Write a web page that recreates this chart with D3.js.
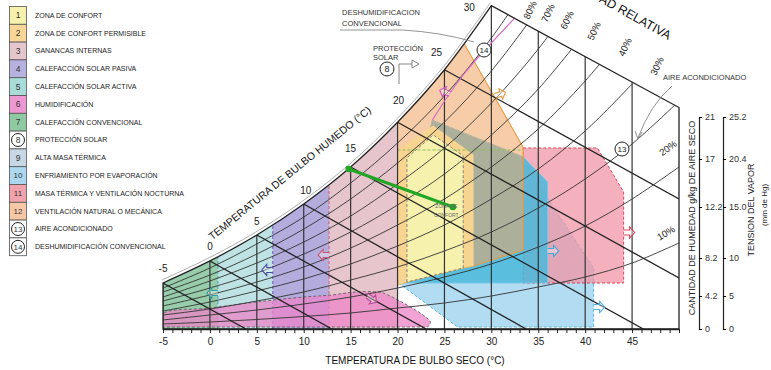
<!DOCTYPE html>
<html><head><meta charset="utf-8">
<script src="https://cdn.jsdelivr.net/npm/d3@7"></script>
<style>
body{margin:0;background:#fff}
svg{display:block;font-family:"Liberation Sans",Arial,sans-serif}
</style>
</head><body>
<svg id="c" width="771" height="370"></svg>
<script>
// ---------------- DATA ----------------
const dryBulbLabels = [-5,0,5,10,15,20,25,30,35,40,45];
const humTicks = [0,4.2,8.2,12.2,17,21];
const humTickLabels = ["0","4.2","8.2","12.2","17","21"];
const vapTicks = [0,5,10,15,20.4,25.2];
const vapTickLabels = ["0","5","10","15.0","20.4","25.2"];

// saturation curve (dry bulb °C, g/kg)
const satT = [-5,0,5,10,15,20,25,30];
const satW = [5.57,7.89,10.0,12.5,16.2,20.5,25.5,31.6];
// upper boundary (wet bulb 30) end point
const topEndT = 50, topEndW = 21.9;

// wet bulb lines: start on saturation, end on the frame
const wbT    = [-5,0,5,10,15,20,25];
const wbEndT = [3.84,13.0,23.05,33.7,46.2,50,50];
const wbEndW = [0,0,0,0,0,6.1,13.0];

// relative humidity curves, sampled at rhT
const rhT = [-5,0,5,10,15,20,25,30,35,40,45,50];
const rh10 = [0.64,0.89,1.21,1.59,2.04,2.67,3.31,4.2,5.15,6.2,7.67,9.38];
const rh20 = [1.15,1.78,2.42,3.18,4.07,5.04,6.2,7.57,9.06,10.71,13.0,16.2];
const rh30 = [1.78,2.55,3.56,4.62,5.88,7.25,8.75,10.24,12.12,15.0,18.43,22.52];
const rh40 = [2.29,3.44,4.73,5.99,7.57,9.14,10.79,13.0,16.0,19.67,24.14];
const rh50 = [2.93,4.31,5.67,7.25,8.98,10.79,13.0,16.2,19.86,24.43,29.85];
const rh60 = [3.56,5.04,6.62,8.51,10.24,12.4,15.5,19.28,23.66,29.09];
const rh70 = [4.07,5.78,7.67,9.45,11.49,14.5,18.05,22.33,27.47,33.66];
const rh80 = [4.62,6.41,8.51,10.47,13.0,16.6,20.52,25.38,31.28];
const rh90 = [5.04,7.15,9.30,11.41,14.6,18.52,23.0,28.52,35.09];
const rhCurves = [rh10,rh20,rh30,rh40,rh50,rh60,rh70,rh80,rh90];

// heating bands (dry bulb limits): 7, 5, 4, 3
const bandEdges = [-5,0.85,6.7,12.7,20];

// zones as [dry bulb, g/kg]
const zoneHumid   = [[-5,0.25],[-5,1.91],[0,2.67],[5,3.44],[10,4.07],[13,4.31],[15.5,4.62],[18,4.62],[18.5,4.52],[23.5,0.89],[23.2,0.25]];
const zoneEvap    = [[20.1,5.57],[26.4,0.25],[40.9,0.25],[40.9,7.15],[35.2,14.2],[33.4,17.2],[23.7,20.7]];
const zoneNight   = [[33.4,18.05],[41.3,18.05],[44.1,13.7],[44.1,5.57],[33.4,5.57]];
const zoneMass    = [[20.1,5.57],[36.0,5.57],[36.0,14.7],[33.4,17.2],[23.7,20.7]];
const zoneVent    = [[20,5.36],[20,40],[27.4,27.5],[33.4,18.1],[33.4,8.83],[28.1,7.36],[27,7.15],[21,5.67]];
const zonePermis  = [[20.1,5.36],[20.1,17.9],[23.8,20.2],[28.1,17.4],[28.1,7.36],[27,7.15],[21,5.67]];
const zoneComfort = [[21,5.67],[21,17.1],[23.8,19.3],[27,17.3],[27,7.15]];
const dehumLine   = [[23.7,20.7],[27.0,25.0],[32.8,30.7]];
const massTopLine = [[20,17.86],[33.4,17.86]];
// observed climate line
const climate = [[14.8,16.0],[25.9,12.2]];

// legend
const legendNums = ["1","2","3","4","5","6","7","8","9","10","11","12","13","14"];
const legendLabels = ["ZONA DE CONFORT","ZONA DE CONFORT PERMISIBLE","GANANCAS INTERNAS","CALEFACCIÓN SOLAR PASIVA","CALEFACCIÓN SOLAR ACTIVA","HUMIDIFICACIÓN","CALEFACCIÓN CONVENCIONAL","PROTECCIÓN SOLAR","ALTA MASA TÉRMICA","ENFRIAMIENTO POR EVAPORACIÓN","MASA TÉRMICA Y VENTILACIÓN NOCTURNA","VENTILACIÓN NATURAL O MECÁNICA","AIRE ACONDICIONADO","DESHUMIDIFICACIÓN CONVENCIONAL"];
const legendCircled = [false,false,false,false,false,false,false,true,false,false,false,false,true,true];
const rhLabels = ["10%","20%","30%","40%","50%","60%","70%","80%"];

// ---------------- STYLE ----------------
const legendColors = ["#f6f2ae","#f8d697","#e6c6cd","#b6b1df","#a9dbd8","#ee98d2","#8fc9a2","#fff","#c7d7e6","#abd8ef","#f0a2ad","#f6c7a6","#fff","#fff"];
const bandColors = ["#97cdaa","#bfe3e4","#b3acdd","#e6c5cc"];
const bandStroke = ["#2fa080","#3aa7b5","#5a4fb5","#c45a70"];

const svg = d3.select("#c");
const x = d3.scaleLinear().domain([-5,50]).range([163,679]);
const y = d3.scaleLinear().domain(humTicks).range([329,296,258,207,159,117]);
const yV = d3.scaleLinear().domain(vapTicks).range([329,296,258,207,159,117]);

const line = d3.line().x(d=>x(d[0])).y(d=>y(d[1]));
const smooth = d3.line().x(d=>x(d[0])).y(d=>y(d[1])).curve(d3.curveCatmullRom);
const satPts = satT.map((t,i)=>[t,satW[i]]);
const satD = smooth(satPts);
const outlineD = `M${x(-5)},${y(0)}L${satD.slice(1)}L${x(topEndT)},${y(topEndW)}L${x(50)},${y(0)}Z`;

svg.append("defs").append("clipPath").attr("id","clip").append("path").attr("d",outlineD);
const g = svg.append("g").attr("clip-path","url(#clip)");

// heating bands
bandColors.forEach((c,i)=>{
  const a = bandEdges[i], b = bandEdges[i+1];
  g.append("path").attr("d", line([[a,0],[a,40],[b,40],[b,0]]) + "Z").attr("fill",c);
  if(i>0) g.append("path").attr("d", line([[a,0],[a,40]])).attr("stroke",bandStroke[i]).attr("stroke-width",0.9).attr("stroke-dasharray","3,2").attr("fill","none");
});
// humidification
g.append("path").attr("d", smooth(zoneHumid)+"Z").attr("fill","#ec84c8").attr("fill-opacity",0.75)
  .attr("stroke","#555").attr("stroke-width",0.8).attr("stroke-dasharray","3,2");
// evaporative cooling
g.append("path").attr("d", line(zoneEvap)+"Z").attr("fill","#b2dcf1")
  .attr("stroke","#5ab8e0").attr("stroke-width",1).attr("stroke-dasharray","3,2");
// night ventilation
g.append("path").attr("d", line(zoneNight)+"Z").attr("fill","#f095a5").attr("fill-opacity",0.75)
  .attr("stroke","#e0405a").attr("stroke-width",1).attr("stroke-dasharray","3,2");
// high thermal mass
g.append("path").attr("d", line(zoneMass)+"Z").attr("fill","#4ab9da").attr("fill-opacity",0.85)
  .attr("stroke","#7cc8e6").attr("stroke-width",1);
// natural ventilation
g.append("path").attr("d", line(zoneVent)+"Z").attr("fill","#f0a462").attr("fill-opacity",0.55)
  .attr("stroke","#ec9a3c").attr("stroke-width",1.1);
// permissible comfort
g.append("path").attr("d", line(zonePermis)+"Z").attr("fill","#f8d491");
// comfort
g.append("path").attr("d", line(zoneComfort)+"Z").attr("fill","#f6f2ae")
  .attr("stroke","#777").attr("stroke-width",0.9).attr("stroke-dasharray","3,2");
g.append("path").attr("d", line(massTopLine)).attr("stroke","#8bbf5a").attr("stroke-width",1).attr("stroke-dasharray","3,2").attr("fill","none");

// RH curves
rhCurves.forEach(arr=>{
  g.append("path").attr("d", smooth(arr.map((w,i)=>[rhT[i],w]))).attr("fill","none").attr("stroke","#333").attr("stroke-width",0.9);
});
// vertical dry bulb lines
dryBulbLabels.forEach(t=>{
  g.append("path").attr("d", line([[t,0],[t,45]])).attr("stroke","#333").attr("stroke-width",1.2);
});
// wet bulb lines
wbT.forEach((t,i)=>{
  g.append("path").attr("d", line([[t,satW[i]],[wbEndT[i],wbEndW[i]]])).attr("stroke","#222").attr("stroke-width",1.3);
});
// dehumidification boundary
g.append("path").attr("d", smooth(dehumLine)).attr("stroke","#d569c9").attr("stroke-width",1.2).attr("fill","none");

// outline
svg.append("path").attr("d", satD).attr("transform","translate(-1,-3)").attr("fill","none").attr("stroke","#999").attr("stroke-width",0.8);
svg.append("path").attr("d", outlineD).attr("fill","none").attr("stroke","#222").attr("stroke-width",1.3);

// arrows
function arrow(t,w,ang,col){
  svg.append("path").attr("d","M0,-2.5L6,-2.5L6,-5.5L11,0L6,5.5L6,2.5L0,2.5")
    .attr("transform",`translate(${x(t)},${y(w)}) rotate(${ang})`)
    .attr("fill","#fff").attr("fill-opacity",0.35).attr("stroke",col).attr("stroke-width",1.1);
}
arrow(44.1,10.2,0,"#e0405a");
arrow(40.9,2.8,0,"#4fb3df");
arrow(36.0,8.75,0,"#3fa9d6");
arrow(12.7,8.44,180,"#c85a72");
arrow(6.7,6.94,180,"#4a4aa8");
arrow(0.85,4.52,180,"#2fa0a8");
arrow(16.8,4.2,35,"#b44a90");
arrow(25.6,23.2,200,"#d050c0");
arrow(30.4,23.0,-20,"#ec9a3c");

// climate line
svg.append("path").attr("d", line(climate)).attr("stroke","#22a626").attr("stroke-width",3).attr("fill","none");
climate.forEach(d=>svg.append("circle").attr("cx",x(d[0])).attr("cy",y(d[1])).attr("r",3.3).attr("fill","#22a626"));
svg.append("text").attr("x",x(25.2)).attr("y",y(12.1)).attr("text-anchor","middle").attr("font-size",5).attr("fill","#666").text("ZONA DE");
svg.append("text").attr("x",x(25.2)).attr("y",y(11.4)).attr("text-anchor","middle").attr("font-size",5).attr("fill","#666").text("CONFORT");

// bottom axis
const ax = svg.append("g").attr("transform",`translate(0,${y(0)})`)
  .call(d3.axisBottom(x).tickValues(d3.range(-5,51,1)).tickSize(4).tickSizeOuter(0)
  .tickFormat(d=> (d%5===0 && d<=45) ? String(d) : ""));
ax.select(".domain").attr("stroke","#222").attr("stroke-width",1.4);
ax.selectAll(".tick line").attr("stroke","#222");
ax.selectAll("text").attr("font-size",10).attr("fill","#222").attr("font-family","Liberation Sans, Arial, sans-serif").attr("dy","0.9em");
svg.append("text").attr("x",415).attr("y",364).attr("text-anchor","middle").attr("font-size",10).attr("fill","#111").text("TEMPERATURA DE BULBO SECO (°C)");

// right axes
const ah = svg.append("g").attr("transform","translate(699,0)")
  .call(d3.axisRight(y).tickValues(humTicks).tickSize(3).tickSizeOuter(3).tickFormat((d,i)=>humTickLabels[i]));
const av = svg.append("g").attr("transform","translate(723,0)")
  .call(d3.axisRight(yV).tickValues(vapTicks).tickSize(3).tickSizeOuter(3).tickFormat((d,i)=>vapTickLabels[i]));
[ah,av].forEach(a=>{
  a.select(".domain").attr("stroke","#222").attr("stroke-width",1.2);
  a.selectAll("text").attr("font-size",9).attr("fill","#333").attr("font-family","Liberation Sans, Arial, sans-serif");
});
svg.append("text").attr("transform","translate(695,218) rotate(-90)").attr("text-anchor","middle").attr("font-size",9).attr("fill","#222").text("CANTIDAD DE HUMEDAD g/kg DE AIRE SECO");
svg.append("text").attr("transform","translate(754,210) rotate(-90)").attr("text-anchor","middle").attr("font-size",9).attr("fill","#222").text("TENSION DEL VAPOR");
svg.append("text").attr("transform","translate(767,205) rotate(-90)").attr("text-anchor","middle").attr("font-size",8).attr("fill","#222").text("(mm de Hg)");

// wet bulb labels on the saturation curve
const wbLabelOff = [[0,-11],[0,-11],[0,-10],[2,-10],[0,-15],[1,-18],[-8,-14],[-22,5]];
satT.forEach((t,i)=>{
  svg.append("text").attr("x",x(t)+wbLabelOff[i][0]).attr("y",y(satW[i])+wbLabelOff[i][1]).attr("text-anchor","middle").attr("font-size",10).attr("fill","#222").text(String(t));
});
svg.append("text").attr("transform","translate(292,176) rotate(-39)").attr("text-anchor","middle").attr("font-size",10.5).attr("fill","#111").text("TEMPERATURA DE BULBO HUMEDO (°C)");

// RH labels
const rhTopPos = [[530,10],[548,13],[567,20],[594,31],[625,47],[657,66]];
["80%","70%","60%","50%","40%","30%"].forEach((s,i)=>{
  svg.append("text").attr("transform",`translate(${rhTopPos[i][0]},${rhTopPos[i][1]}) rotate(-65)`).attr("text-anchor","middle").attr("dy","0.35em").attr("font-size",9.5).attr("fill","#222").text(s);
});
svg.append("text").attr("transform","translate(668,148) rotate(-35)").attr("text-anchor","middle").attr("dy","0.35em").attr("font-size",9.5).attr("fill","#222").text(rhLabels[1]);
svg.append("text").attr("transform","translate(666,233) rotate(-30)").attr("text-anchor","middle").attr("dy","0.35em").attr("font-size",9.5).attr("fill","#222").text(rhLabels[0]);
svg.append("text").attr("transform","translate(668,40) rotate(29)").attr("text-anchor","end").attr("font-size",12.5).attr("fill","#111").text("HUMEDAD RELATIVA");

// annotations
function circ(cx,cy,s){
  svg.append("circle").attr("cx",cx).attr("cy",cy).attr("r",7).attr("fill","#fff").attr("stroke","#222").attr("stroke-width",1);
  svg.append("text").attr("x",cx).attr("y",cy).attr("dy","0.35em").attr("text-anchor","middle").attr("font-size",s.length>1?8:9).attr("fill","#222").text(s);
}
svg.append("text").attr("x",342).attr("y",15).attr("font-size",7.5).attr("fill","#333").text("DESHUMIDIFICACION");
svg.append("text").attr("x",342).attr("y",26).attr("font-size",7.5).attr("fill","#333").text("CONVENCIONAL");
svg.append("path").attr("d","M340,30L402,30Q440,32 474,42").attr("fill","none").attr("stroke","#888").attr("stroke-width",0.9);
circ(484,50,"14");
svg.append("text").attr("x",373).attr("y",51).attr("font-size",7.5).attr("fill","#333").text("PROTECCIÓN");
svg.append("text").attr("x",373).attr("y",60).attr("font-size",7.5).attr("fill","#333").text("SOLAR");
circ(387,69,"8");
svg.append("path").attr("d","M399,84L399,64L412,64").attr("fill","none").attr("stroke","#777").attr("stroke-width",0.9);
svg.append("path").attr("d","M412,60L419,64L412,68Z").attr("fill","#fff").attr("stroke","#777").attr("stroke-width",0.9);
svg.append("text").attr("x",663).attr("y",80).attr("font-size",7.5).attr("fill","#333").text("AIRE ACONDICIONADO");
svg.append("path").attr("d","M672,86Q650,105 638,138").attr("fill","none").attr("stroke","#888").attr("stroke-width",0.9);
svg.append("path").attr("d","M635,131L638,139L642,132").attr("fill","none").attr("stroke","#888").attr("stroke-width",0.9);
circ(622,149,"13");

// legend
const step = 17.8, top0 = 6.5;
legendNums.forEach((n,i)=>{
  const yt = top0 + i*step;
  svg.append("rect").attr("x",9.5).attr("y",yt).attr("width",17).attr("height",step)
    .attr("fill",legendColors[i]).attr("stroke","#555").attr("stroke-width",0.8);
  if(legendCircled[i]) svg.append("circle").attr("cx",18).attr("cy",yt+step/2).attr("r",6.5).attr("fill","#fff").attr("stroke","#222").attr("stroke-width",1);
  svg.append("text").attr("x",18).attr("y",yt+step/2).attr("dy","0.35em").attr("text-anchor","middle")
    .attr("font-size",n.length>1?8:8.5).attr("fill","#333").text(n);
  svg.append("text").attr("x",35).attr("y",yt+step/2).attr("dy","0.35em")
    .attr("font-size",7).attr("fill","#222").text(legendLabels[i]);
});
</script>
</body></html>
